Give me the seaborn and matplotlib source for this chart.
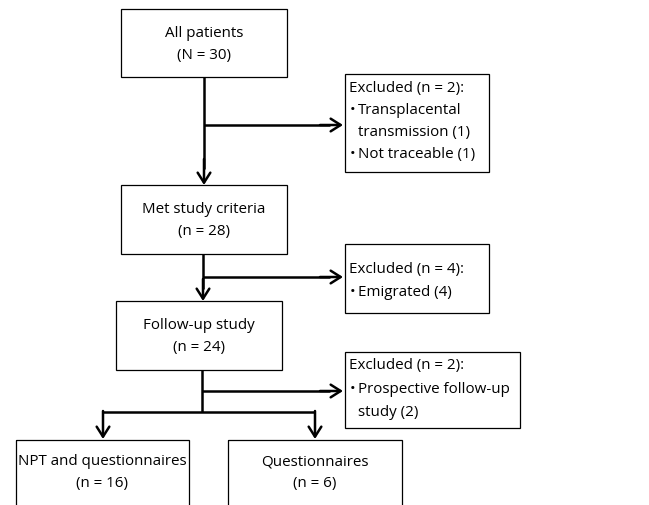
import matplotlib
matplotlib.use("Agg")
import matplotlib.pyplot as plt
import seaborn as sns
from matplotlib.patches import Rectangle

sns.set_theme(style="white")
plt.rcParams['font.family'] = ['Open Sans', 'DejaVu Sans']
plt.rcParams['text.color'] = 'black'

# Flowchart content
main_titles = ["All patients", "Met study criteria", "Follow-up study"]
main_counts = ["(N = 30)", "(n = 28)", "(n = 24)"]
final_titles = ["NPT and questionnaires", "Questionnaires"]
final_counts = ["(n = 16)", "(n = 6)"]
excl_headers = ["Excluded (n = 2):", "Excluded (n = 4):", "Excluded (n = 2):"]
excl_items = [
    [["Transplacental", "transmission (1)"], ["Not traceable (1)"]],
    [["Emigrated (4)"]],
    [["Prospective follow-up", "study (2)"]],
]

W, H = 649, 506
fig = plt.figure(figsize=(W / 100, H / 100), dpi=100)
ax = fig.add_axes([0, 0, 1, 1])
ax.set_xlim(0, W)
ax.set_ylim(H, 0)
ax.axis("off")

FS = 10.9
LW_BOX = 0.9
LW_LINE = 1.8
LINE = 22

def box(x0, y0, x1, y1):
    ax.add_patch(Rectangle((x0, y0), x1 - x0, y1 - y0, fill=False,
                           edgecolor="black", linewidth=LW_BOX))

def arrow(x0, y0, x1, y1):
    ax.annotate("", xy=(x1, y1), xytext=(x0, y0),
                arrowprops=dict(arrowstyle="->,head_length=0.6,head_width=0.38",
                                color="black", lw=LW_LINE, mutation_scale=12,
                                shrinkA=0, shrinkB=0))

def line(xs, ys):
    ax.plot(xs, ys, color="black", lw=LW_LINE, solid_capstyle="butt")

# main boxes
main_boxes = [(121, 10, 287, 78), (121, 186, 287, 255), (116, 302, 282, 371)]
for (x0, y0, x1, y1), t, c in zip(main_boxes, main_titles, main_counts):
    box(x0, y0, x1, y1)
    cx, cy = (x0 + x1) / 2, (y0 + y1) / 2
    ax.text(cx, cy - LINE / 2, t, ha="center", va="center", fontsize=FS, color="black")
    ax.text(cx, cy + LINE / 2, c, ha="center", va="center", fontsize=FS, color="black")

# final boxes (cut off at bottom)
final_boxes = [(16, 441, 189, 520), (228, 441, 402, 520)]
for (x0, y0, x1, y1), t, c in zip(final_boxes, final_titles, final_counts):
    box(x0, y0, x1, y1)
    cx = (x0 + x1) / 2
    ax.text(cx, 462, t, ha="center", va="center", fontsize=FS, color="black")
    ax.text(cx, 484, c, ha="center", va="center", fontsize=FS, color="black")

# exclusion boxes
excl_boxes = [(345, 75, 489, 173), (345, 245, 489, 314), (345, 353, 520, 429)]
excl_first_y = [88, 270, 366]
excl_spacing = [22.3, 23, 23.5]
for (x0, y0, x1, y1), hdr, items, fy, sp in zip(excl_boxes, excl_headers,
                                                 excl_items, excl_first_y, excl_spacing):
    box(x0, y0, x1, y1)
    y = fy
    ax.text(349, y, hdr, ha="left", va="center", fontsize=FS, color="black")
    for item in items:
        for k, seg in enumerate(item):
            y += sp
            if k == 0:
                ax.text(349.5, y, "•", ha="left", va="center", fontsize=FS, color="black")
            ax.text(358, y, seg, ha="left", va="center", fontsize=FS, color="black")

# connectors
# box1 -> box2 with branch
line([204, 204], [78, 170])
arrow(204, 160, 204, 186)
line([204, 330], [126, 126])
arrow(320, 126, 343, 126)
# box2 -> box3
line([203, 203], [255, 290])
arrow(203, 280, 203, 302)
line([203, 330], [278, 278])
arrow(320, 278, 343, 278)
# box3 -> split
line([202, 202], [371, 413])
line([202, 330], [392, 392])
arrow(320, 392, 343, 392)
line([103, 315], [413, 413])
arrow(103, 412, 103, 440)
arrow(315, 412, 315, 440)

fig.savefig("out.png", dpi=100, facecolor="white")
